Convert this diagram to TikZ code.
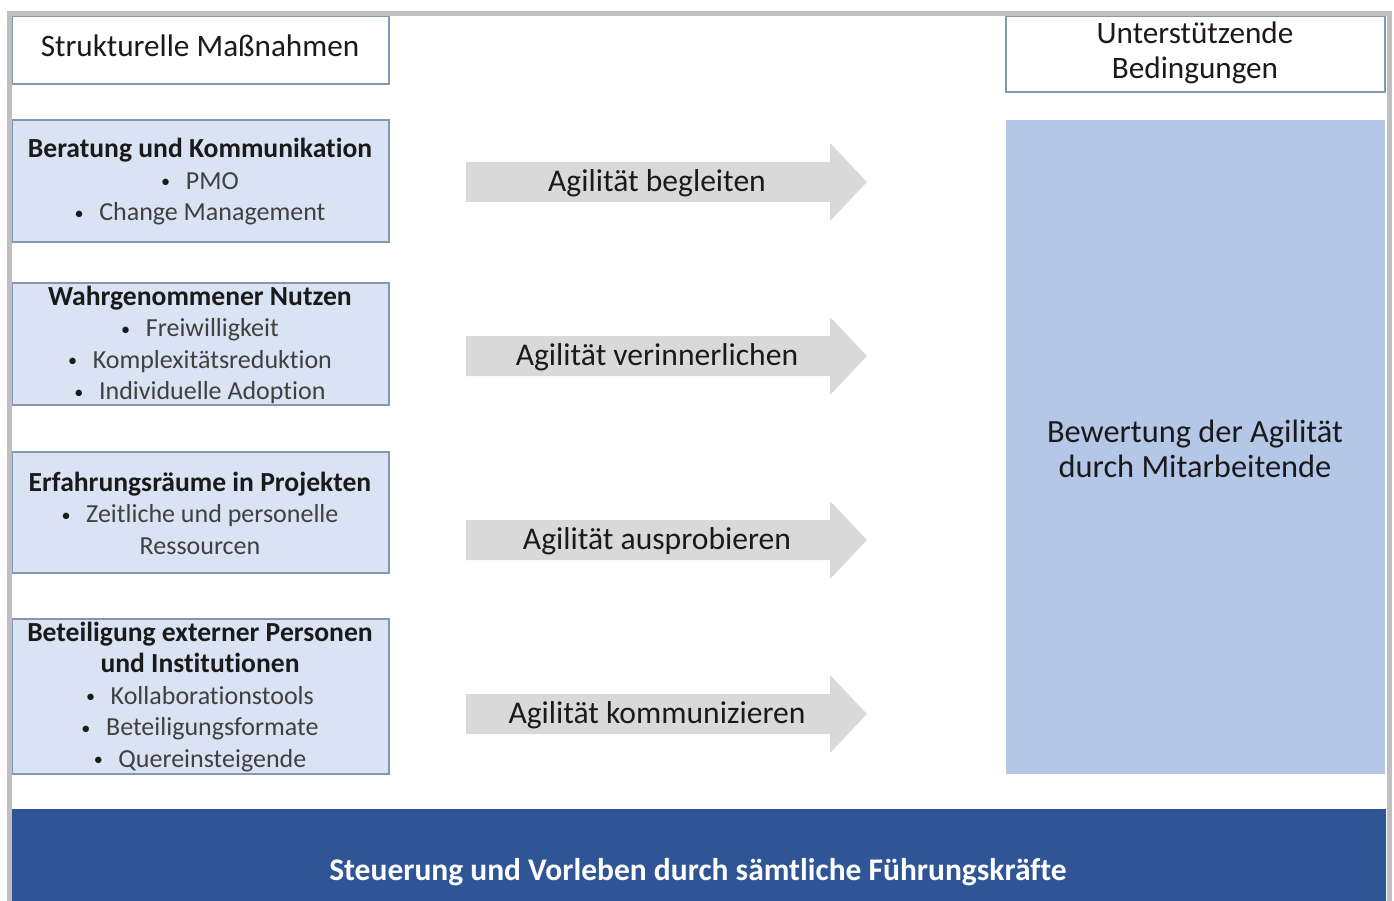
\documentclass[tikz,border=0pt]{standalone}
\usepackage{fontspec}
\setmainfont{Carlito}[RawFeature=-liga]
\definecolor{boxfill}{HTML}{DAE3F3}
\definecolor{boxline}{HTML}{8497B0}
\definecolor{bigfill}{HTML}{B4C7E7}
\definecolor{bandblue}{HTML}{2F5597}
\definecolor{arrowgray}{HTML}{D9D9D9}
\definecolor{framegray}{HTML}{BFBFBF}
\definecolor{bulletgray}{HTML}{404040}
\definecolor{titleblack}{HTML}{1A1A1A}
\tikzset{
  headbox/.style={draw=boxline, line width=1.2pt, fill=white, inner sep=0pt},
  measbox/.style={draw=boxline, line width=1.2pt, fill=boxfill, inner sep=0pt},
  boxtext/.style={align=center, text=bulletgray, font=\fontsize{26}{31.5}\selectfont, inner sep=0pt},
  arrowtext/.style={text=titleblack, font=\fontsize{31.6}{36}\selectfont, inner sep=0pt},
  agarrow/.pic={\fill[arrowgray] (0,-20) -- (364,-20) -- (364,-39) -- (401,0) -- (364,39) -- (364,20) -- (0,20) -- cycle;}
}
\newcommand{\ttl}[1]{{\color{titleblack}\bfseries\fontsize{27.6}{31.5}\selectfont #1}}
\newcommand{\bul}[1]{{\color{titleblack}\raisebox{0.12ex}{\scalebox{0.7}{\textbullet}}}\hspace{0.6em}#1}
\begin{document}
\begin{tikzpicture}[x=1pt,y=-1pt]
\useasboundingbox (0,0) rectangle (1394,901);
\fill[white] (0,0) rectangle (1394,901);
% header boxes
\draw[headbox] (12,16) rectangle (389,84);
\node[text=titleblack, font=\fontsize{31.2}{35}\selectfont] (sm) at (200,46) {Strukturelle Maßnahmen};
\draw[headbox] (1006,16) rectangle (1385,92);
\node[text=titleblack, align=center, font=\fontsize{31.2}{35}\selectfont, inner sep=0pt] (ub) at (1195,53) {Unterstützende\\Bedingungen};
% left boxes
\draw[measbox] (12,120) rectangle (389,242);
\node[boxtext] (b1) at (200,182) {\ttl{Beratung und Kommunikation}\\\bul{PMO}\\\bul{Change Management}};
\draw[measbox] (12,283) rectangle (389,405);
\node[boxtext] (b2) at (200,345) {\ttl{Wahrgenommener Nutzen}\\\bul{Freiwilligkeit}\\\bul{Komplexitätsreduktion}\\\bul{Individuelle Adoption}};
\draw[measbox] (12,452) rectangle (389,573);
\node[boxtext] (b3) at (200,513) {\ttl{Erfahrungsräume in Projekten}\\\bul{Zeitliche und personelle}\\Ressourcen};
\draw[measbox] (12,619) rectangle (389,774);
\node[boxtext] (b4) at (200,697) {\ttl{Beteiligung externer Personen}\\\ttl{und Institutionen}\\\bul{Kollaborationstools}\\\bul{Beteiligungsformate}\\\bul{Quereinsteigende}};
% arrows
\pic at (466,182) {agarrow};
\node[arrowtext] (a1) at (657,183) {Agilität begleiten};
\pic at (466,356) {agarrow};
\node[arrowtext] (a2) at (657,357) {Agilität verinnerlichen};
\pic at (466,540) {agarrow};
\node[arrowtext] (a3) at (657,541) {Agilität ausprobieren};
\pic at (466,714) {agarrow};
\node[arrowtext] (a4) at (657,715) {Agilität kommunizieren};
% right box
\fill[bigfill] (1006,120) rectangle (1385,774);
\node[text=titleblack, align=center, font=\fontsize{32.4}{35}\selectfont, inner sep=0pt] (bw) at (1195,449) {Bewertung der Agilität\\durch Mitarbeitende};
% band
\fill[bandblue] (12,809) rectangle (1386,901);
\node[text=white, font=\bfseries\fontsize{31.5}{34}\selectfont, inner sep=0pt] (band) at (698,872) {Steuerung und Vorleben durch sämtliche Führungskräfte};
% frame
\draw[framegray, line width=5pt] (9.5,905) -- (9.5,13.5) -- (1389.5,13.5) -- (1389.5,905);
\end{tikzpicture}
\end{document}
